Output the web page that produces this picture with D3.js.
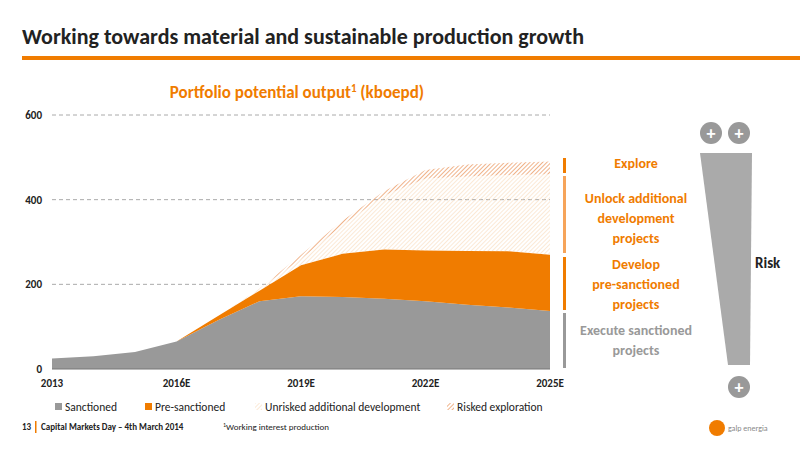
<!DOCTYPE html><html><head><meta charset="utf-8"><script src="https://cdn.jsdelivr.net/npm/d3@7"></script>
<style>body{margin:0;background:#fff;font-family:Calibri,Carlito,"Liberation Sans Narrow","Open Sans",sans-serif}</style></head><body><svg id="c" width="800" height="450"></svg>
<script>
const years=[2013,2014,2015,2016,2017,2018,2019,2020,2021,2022,2023,2024,2025];
const sanctioned=[25,30,40,65,115,160,172,170,166,160,152,145,137];
const preSanctioned=[0,0,0,0,10,25,73,102,116,120,127,133,133];
const unrisked=[0,0,0,0,0,5,15,68,128,170,176,180,190];
const risked=[0,0,0,0,0,0,10,10,10,20,28,29,30];
const xTicks=[2013,2016,2019,2022,2025];
const xTickLabels=["2013","2016E","2019E","2022E","2025E"];
const yTicks=[0,200,400,600];
const svg=d3.select("#c");
const defs=svg.append("defs");
function hatch(id,col,w,gap){const p=defs.append("pattern").attr("id",id).attr("width",gap).attr("height",gap).attr("patternUnits","userSpaceOnUse").attr("patternTransform","rotate(45)");
p.append("line").attr("x1",0).attr("y1",0).attr("x2",0).attr("y2",gap).attr("stroke",col).attr("stroke-width",w);}
hatch("hu","#f7d3ae",1,3);hatch("hr","#ec9f6c",1.6,3);
svg.append("text").attr("x",22).attr("y",44).attr("font-size",22).attr("font-weight","bold").attr("fill","#222").text("Working towards material and sustainable production growth");
svg.append("rect").attr("x",22).attr("y",56).attr("width",778).attr("height",4).attr("fill","#f07c00");
svg.append("text").attr("x",297).attr("y",98).attr("text-anchor","middle").attr("font-size",17).attr("font-weight","bold").attr("fill","#f07c00").html('Portfolio potential output<tspan dy="-6" font-size="11">1</tspan><tspan dy="6"> (kboepd)</tspan>');
const x=d3.scaleLinear().domain([2013,2025]).range([52,550]);
const y=d3.scaleLinear().domain([0,600]).range([369,115]);
yTicks.forEach(t=>{ if(t>0) svg.append("line").attr("x1",52).attr("x2",550).attr("y1",y(t)).attr("y2",y(t)).attr("stroke","#aaa").attr("stroke-dasharray","4,3");
svg.append("text").attr("x",42).attr("y",y(t)+4).attr("text-anchor","end").attr("font-size",11).attr("font-weight","bold").attr("fill","#222").text(t);});
const data=years.map((yr,i)=>({yr,s:sanctioned[i],p:preSanctioned[i],u:unrisked[i],r:risked[i]}));
const st=d3.stack().keys(["s","p","u","r"])(data);
const fills=["#999999","#f07c00","url(#hu)","url(#hr)"];
const area=d3.area().x(d=>x(d.data.yr)).y0(d=>y(d[0])).y1(d=>y(d[1]));
st.forEach((s,i)=>svg.append("path").attr("d",area(s)).attr("fill",fills[i]));
svg.append("line").attr("x1",52).attr("x2",550).attr("y1",369).attr("y2",369).attr("stroke","#777");
xTicks.forEach((t,i)=>svg.append("text").attr("x",x(t)).attr("y",387).attr("text-anchor","middle").attr("font-size",11).attr("font-weight","bold").attr("fill","#222").text(xTickLabels[i]));
const leg=[["Sanctioned","#999"],["Pre-sanctioned","#f07c00"],["Unrisked additional development","url(#hu)"],["Risked exploration","url(#hr)"]];
const lx=[55,145,255,447];
leg.forEach((l,i)=>{svg.append("rect").attr("x",lx[i]).attr("y",403).attr("width",7).attr("height",7).attr("fill",l[1]);
svg.append("text").attr("x",lx[i]+10).attr("y",411).attr("font-size",11.5).attr("fill","#222").text(l[0]);});
svg.append("text").attr("x",22).attr("y",430).attr("font-size",9).attr("font-weight","bold").attr("fill","#222").text("13");
svg.append("rect").attr("x",35).attr("y",421).attr("width",1.5).attr("height",12).attr("fill","#f07c00");
svg.append("text").attr("x",41).attr("y",430).attr("font-size",9).attr("font-weight","bold").attr("fill","#222").text("Capital Markets Day – 4th March 2014");
svg.append("text").attr("x",223).attr("y",430).attr("font-size",9).attr("fill","#222").html('<tspan dy="-3" font-size="6">1</tspan><tspan dy="3">Working interest production</tspan>');
svg.append("circle").attr("cx",717).attr("cy",428).attr("r",8).attr("fill","#f07c00");
svg.append("text").attr("x",728).attr("y",431).attr("font-size",8).attr("fill","#888").text("galp energia");
const segs=[[158,173,"#f07c00"],[176,253,"#f6a45a"],[257,310,"#f07c00"],[313,368,"#999"]];
segs.forEach(s=>svg.append("rect").attr("x",563).attr("y",s[0]).attr("width",3).attr("height",s[1]-s[0]).attr("fill",s[2]));
const labs=[[168,["Explore"],"#f07c00"],[203,["Unlock additional","development","projects"],"#f07c00"],[269,["Develop","pre-sanctioned","projects"],"#f07c00"],[335,["Execute sanctioned","projects"],"#999"]];
labs.forEach(l=>l[1].forEach((t,j)=>svg.append("text").attr("x",636).attr("y",l[0]+j*20).attr("text-anchor","middle").attr("font-size",14).attr("font-weight","bold").attr("fill",l[2]).text(t)));
svg.append("path").attr("d","M700,153 L752,153 L750,365 L728,365 Z").attr("fill","#aaa");
[[711,133],[739,133],[739,387]].forEach(c=>{svg.append("circle").attr("cx",c[0]).attr("cy",c[1]).attr("r",11).attr("fill","#999");
svg.append("text").attr("x",c[0]).attr("y",c[1]+6).attr("text-anchor","middle").attr("font-size",18).attr("font-weight","bold").attr("fill","#fff").text("+");});
svg.append("text").attr("x",755).attr("y",268).attr("font-size",15).attr("font-weight","bold").attr("fill","#222").text("Risk");
</script></body></html>
